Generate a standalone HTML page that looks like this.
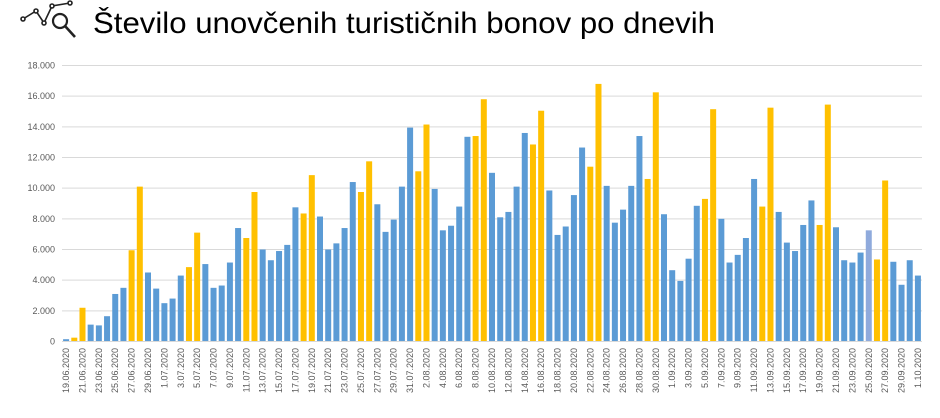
<!DOCTYPE html>
<html><head><meta charset="utf-8"><style>
html,body{margin:0;padding:0;background:#fff;width:940px;height:418px;overflow:hidden}
svg{display:block}
</style></head><body>
<svg id="s" width="940" height="418" xmlns="http://www.w3.org/2000/svg" font-family="Liberation Sans, sans-serif">
<g fill="none" stroke="#222" stroke-width="1.6">
<polyline points="23,19 36,11 44,23 52,6 70,3"/>
<circle cx="23" cy="19" r="2" fill="#fff"/><circle cx="36" cy="11" r="2" fill="#fff"/><circle cx="44" cy="23" r="2" fill="#fff"/><circle cx="52" cy="6" r="2" fill="#fff"/><circle cx="70" cy="3" r="2" fill="#fff"/>
<circle cx="60" cy="21" r="7" stroke-width="2.2" fill="#fff"/>
<line x1="65" y1="26" x2="75" y2="37" stroke-width="2.6"/>
</g>
<text x="93" y="33" font-size="30" fill="#000" textLength="622" lengthAdjust="spacingAndGlyphs">Število unovčenih turističnih bonov po dnevih</text>
<g id="g"></g>
</svg>
<script>
var v=[150,250,2200,1100,1050,1650,3100,3500,5950,10100,4500,3450,2500,2800,4300,4850,7100,5050,3500,3650,5150,7400,6750,9750,6000,5300,5900,6300,8750,8350,10850,8150,6000,6400,7400,10400,9750,11750,8950,7150,7950,10100,13950,11100,14150,9950,7250,7550,8800,13350,13400,15800,11000,8100,8450,10100,13600,12850,15050,9850,6950,7500,9550,12650,11400,16800,10150,7750,8600,10150,13400,10600,16250,8300,4650,3950,5400,8850,9300,15150,8000,5150,5650,6750,10600,8800,15250,8450,6450,5900,7600,9200,7600,15450,7450,5300,5150,5800,7250,5350,10500,5200,3700,5300,4300];
var g=document.getElementById('g'),h='';
var y0=341.5,k=276/18000,x0=62,sl=860/105;
for(var i=0;i<=9;i++){var y=y0-i*2000*k;h+='<line x1="62" x2="922" y1="'+y+'" y2="'+y+'" stroke="#d9d9d9" stroke-width="1"/>';
h+='<text x="55" y="'+(y+3)+'" font-size="9" fill="#595959" text-anchor="end">'+(i==0?'0':(i*2)+'.000')+'</text>';}
var d=new Date(2020,5,19);
for(var i=0;i<105;i++){var dd=new Date(d.getTime()+i*86400000);var wd=dd.getDay();
var c=(wd==6||wd==0)?'#ffc000':'#5b9bd5'; if(i==98)c='#8faadc';
var x=x0+i*sl+1.1,hh=v[i]*k;
h+='<rect x="'+x.toFixed(2)+'" y="'+(y0-hh).toFixed(2)+'" width="6" height="'+hh.toFixed(2)+'" fill="'+c+'"/>';
if(i%2==0){var cx=x+3+3;var lbl=dd.getDate()+'.'+('0'+(dd.getMonth()+1)).slice(-2)+'.2020';
h+='<text transform="translate('+cx.toFixed(2)+',348) rotate(-90)" font-size="9" fill="#595959" text-anchor="end">'+lbl+'</text>';}}
h+='<line x1="62" x2="922" y1="341.5" y2="341.5" stroke="#d9d9d9"/>';
g.innerHTML=h;
</script>
</body></html>
